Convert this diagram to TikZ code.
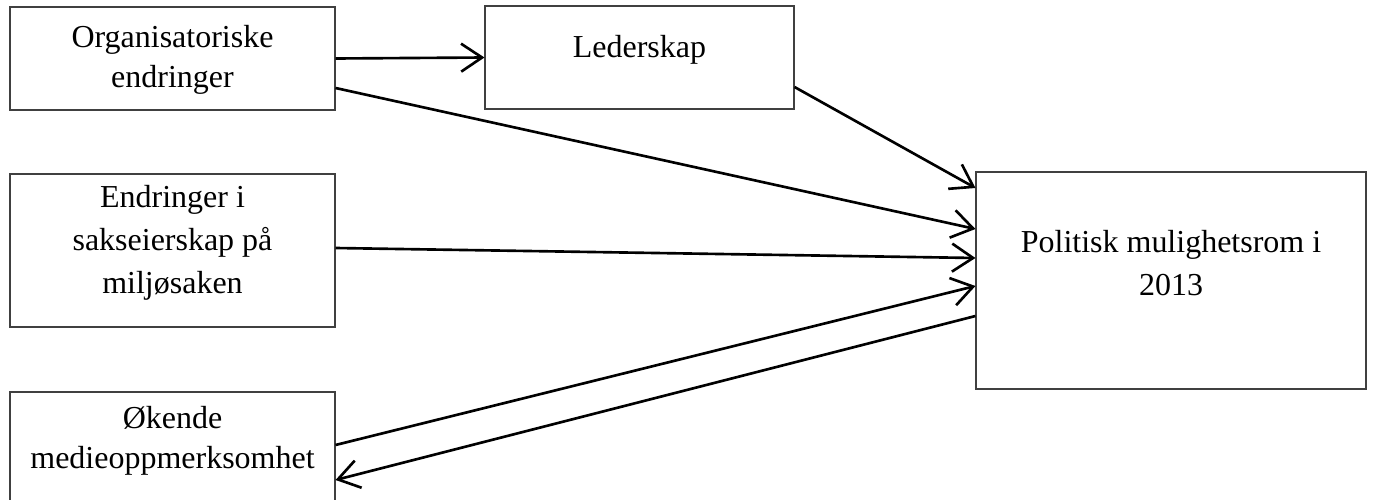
\documentclass[tikz,border=0pt]{standalone}
\usepackage{fontspec}
\setmainfont{Liberation Serif}
\usetikzlibrary{arrows.meta}

\begin{document}
\begin{tikzpicture}[
        box/.style={draw=black!75, line width=0.3pt, inner sep=0pt},
        txt/.style={align=center, inner sep=0pt, font=\fontsize{9.1}{11.4}\selectfont},
        arr/.style={line width=0.75pt, -{Straight Barb[length=2.1mm,width=2.8mm]}}
        ]
        \useasboundingbox (0,0) rectangle (13.74,4.99);
        
        % boxes
        \node[box, minimum width=3.25cm, minimum height=1.03cm] (org) at (1.725,4.405) {};
        \node[box, minimum width=3.09cm, minimum height=1.03cm] (led) at (6.395,4.415) {};
        \node[box, minimum width=3.25cm, minimum height=1.53cm] (endr) at (1.725,2.485) {};
        \node[box, minimum width=3.25cm, minimum height=1.13cm] (oek) at (1.725,0.505) {};
        \node[box, minimum width=3.90cm, minimum height=2.17cm] (pol) at (11.71,2.185) {};
        
        % texts
        \node[txt] (orgtext) at ([yshift=-0.01cm]org) {Organisatoriske\\endringer};
        \node[txt] (ledtext) at ([yshift=0.075cm]led) {Lederskap};
        \node[txt, font=\fontsize{9.1}{12.3}\selectfont] (endrtext) at ([yshift=0.075cm]endr) {Endringer i\\sakseierskap på\\miljøsaken};
        \node[txt] (oektext) at ([yshift=0.075cm]oek) {Økende\\medieoppmerksomhet};
        \node[txt, font=\fontsize{9.1}{12.3}\selectfont] (poltext) at ([yshift=0.175cm]pol) {Politisk mulighetsrom i\\2013};
        
        % arrows
        \draw[arr] (org.east) -- (led.west);
        \draw[arr] ([yshift=-0.295cm]led.east) -- ([yshift=0.925cm]pol.west);
        \draw[arr] ([yshift=-0.295cm]org.east) -- ([yshift=0.515cm]pol.west);
        \draw[arr] ([yshift=0.025cm]endr.east) -- ([yshift=0.225cm]pol.west);
        \draw[arr] ([yshift=0.035cm]oek.east) -- ([yshift=-0.055cm]pol.west);
        \draw[arr] ([yshift=-0.355cm]pol.west) -- ([yshift=-0.315cm]oek.east);
\end{tikzpicture}
\end{document}
